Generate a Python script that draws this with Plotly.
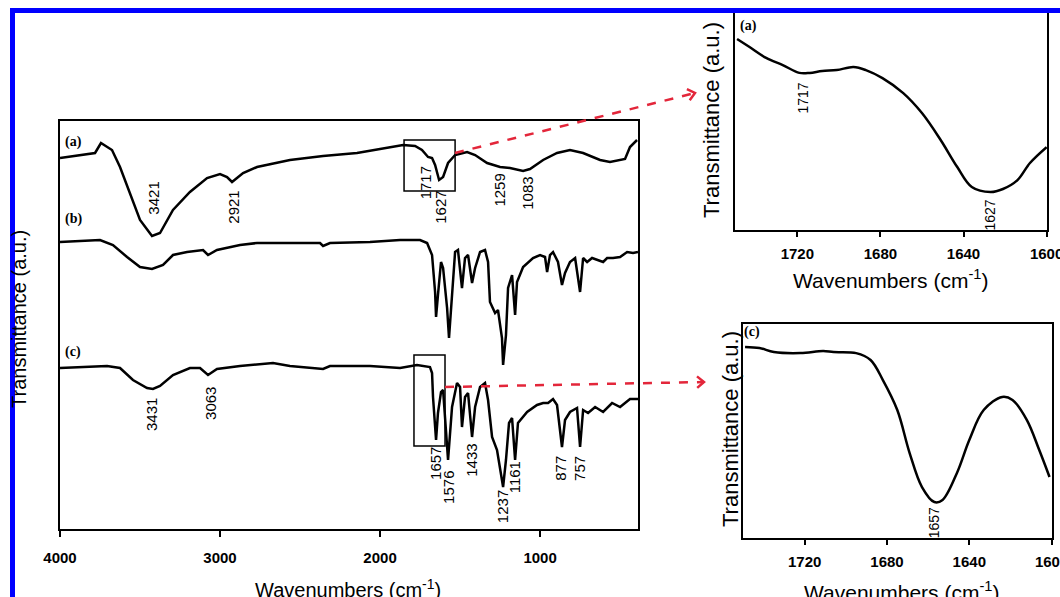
import numpy as np
import plotly.graph_objects as go

W, H = 1060, 597

# ---------------- data (wavenumber cm-1, transmittance a.u.) ----------------
wn_a = [4000, 3781, 3744, 3675, 3625, 3563, 3500, 3425, 3375, 3294, 3188, 3081, 3000, 2956,
        2925, 2894, 2856, 2769, 2563, 2356, 2144, 2000, 1856, 1781, 1738, 1700, 1675, 1656,
        1631, 1606, 1575, 1531, 1456, 1406, 1331, 1250, 1188, 1106, 1063, 981, 894, 813,
        731, 625, 563, 469, 438, 394]
t_a = [92.75, 94.0, 96.5, 94.75, 90.5, 84.0, 77.25, 73.25, 74.0, 79.75, 84.25, 87.75, 88.75, 88.0,
       86.75, 87.75, 89.0, 90.5, 92.25, 93.25, 94.0, 95.0, 96.0, 95.75, 94.75, 93.0, 92.75, 91.0,
       87.25, 88.0, 91.5, 93.5, 94.25, 93.5, 91.5, 90.5, 90.25, 89.5, 90.0, 92.25, 94.0, 94.75,
       94.0, 92.25, 91.75, 92.5, 95.5, 97.25]

wn_b = [4000, 3750, 3669, 3581, 3500, 3425, 3356, 3294, 3206, 3106, 3075, 3019, 2875, 2769,
        2375, 2356, 2313, 2063, 1875, 1750, 1706, 1675, 1656, 1650, 1638, 1619, 1606, 1581,
        1569, 1550, 1531, 1513, 1488, 1469, 1450, 1425, 1406, 1375, 1344, 1325, 1313, 1281,
        1263, 1238, 1231, 1213, 1200, 1175, 1156, 1144, 1106, 1044, 1000, 969, 956, 938,
        919, 888, 863, 844, 813, 781, 750, 731, 706, 675, 644, 606, 581, 544, 500, 456,
        419, 388]
t_b = [71.75, 72.25, 71.0, 68.0, 65.5, 65.0, 66.0, 68.5, 69.25, 69.75, 68.5, 69.75, 71.0, 71.5,
       71.5, 70.75, 71.5, 71.75, 72.25, 72.25, 71.5, 68.5, 59.25, 53.0, 58.5, 66.75, 65.25, 55.25,
       47.75, 59.25, 69.25, 69.75, 60.25, 67.75, 68.5, 61.5, 65.25, 69.25, 69.75, 66.75, 56.75, 54.0,
       54.75, 47.75, 41.0, 48.5, 60.25, 63.5, 53.5, 61.75, 65.5, 67.75, 68.5, 68.0, 64.25, 68.5,
       69.25, 66.75, 61.0, 64.0, 66.75, 67.75, 59.25, 67.75, 66.75, 67.75, 67.25, 66.75, 67.75, 67.75,
       68.0, 69.25, 69.0, 69.25]

wn_c = [4000, 3706, 3625, 3544, 3456, 3419, 3375, 3294, 3188, 3125, 3075, 3019, 2875, 2669,
        2563, 2356, 2313, 2063, 1875, 1769, 1688, 1675, 1669, 1650, 1638, 1619, 1606, 1588,
        1575, 1550, 1519, 1500, 1488, 1469, 1450, 1425, 1406, 1375, 1344, 1325, 1300, 1269,
        1250, 1231, 1213, 1194, 1175, 1156, 1138, 1081, 1019, 981, 950, 919, 894, 863, 844,
        813, 769, 750, 731, 700, 656, 606, 550, 500, 438, 388]
t_c = [40.25, 40.75, 40.25, 37.25, 35.25, 35.0, 35.75, 38.5, 40.25, 40.25, 38.5, 40.0, 40.75, 41.5,
       40.75, 40.0, 40.75, 40.75, 40.25, 41.0, 40.5, 39.0, 33.0, 22.25, 29.0, 34.25, 34.75, 25.5,
       17.25, 30.5, 36.5, 35.5, 25.5, 33.0, 34.0, 23.0, 30.5, 35.5, 36.5, 32.25, 23.0, 19.75,
       15.5, 10.5, 17.25, 26.5, 27.75, 17.25, 26.5, 29.25, 31.0, 31.5, 31.5, 32.5, 31.0, 20.5, 27.25,
       29.25, 30.25, 20.5, 29.75, 29.0, 30.5, 29.25, 31.5, 30.5, 32.5, 32.5]

# inset (a): zoom of spectrum (a) 1750-1600
wn_ia = [1749, 1743, 1735, 1727, 1719, 1714, 1708, 1701, 1693, 1687, 1679, 1669, 1660, 1651,
         1643, 1636, 1627, 1621, 1614, 1608, 1600]
t_ia = [88.0, 84.3, 79.3, 76.0, 72.4, 72.4, 73.3, 73.7, 75.1, 73.7, 70.0, 63.1, 53.9, 41.5,
        29.0, 19.8, 17.5, 18.9, 23.0, 30.9, 38.2]

# inset (c): zoom of spectrum (c) 1750-1600
wn_ic = [1749, 1742, 1735, 1722, 1711, 1706, 1695, 1688, 1682, 1675, 1669, 1663, 1657, 1653,
         1646, 1640, 1633, 1624, 1619, 1612, 1606, 1601]
t_ic = [89.3, 88.8, 86.9, 86.4, 87.4, 86.9, 86.4, 83.2, 73.8, 59.8, 39.7, 23.8, 16.8, 17.8,
        30.4, 45.8, 59.8, 65.9, 64.5, 55.1, 41.1, 28.5]

# peak labels (wavenumber text, label height in a.u.)
peaks_a = [3421, 2921, 1717, 1627, 1259, 1083]
peaks_a_y = [82.75, 80.5, 86.5, 80.5, 84.75, 84.0]
peaks_c = [3431, 3063, 1657, 1576, 1433, 1237, 1161, 877, 757]
peaks_c_y = [28.5, 31.5, 16.5, 10.5, 17.25, 5.5, 13.0, 15.25, 15.25]
peaks_ia = [1717, 1627]
peaks_ia_y = [60.8, 6.9]
peaks_ic = [1657]
peaks_ic_y = [7.0]

# zoom boxes on main plot (wn range, T range)
box_a = [1850, 1531, 84.5, 97.25]
box_c = [1788, 1594, 20.75, 43.5]

main_ticks = [4000, 3000, 2000, 1000]
inset_ticks = [1720, 1680, 1640, 1600]

# ---------------- figure ----------------
def P(x, y):
    return x / W, 1 - y / H

fig = go.Figure()
line = dict(color="black", width=2.5)
for wn, t in [(wn_a, t_a), (wn_b, t_b), (wn_c, t_c)]:
    fig.add_trace(go.Scatter(x=wn, y=t, mode="lines", line=line, xaxis="x", yaxis="y",
                             showlegend=False, hoverinfo="skip"))
fig.add_trace(go.Scatter(x=wn_ia, y=t_ia, mode="lines", line=dict(color="black", width=2.5),
                         line_shape="spline", xaxis="x2", yaxis="y2", showlegend=False))
fig.add_trace(go.Scatter(x=wn_ic, y=t_ic, mode="lines", line=dict(color="black", width=2.5),
                         line_shape="spline", xaxis="x3", yaxis="y3", showlegend=False))

tickfont = dict(family="Liberation Sans, Arial", size=15, color="black", weight="bold")
axcommon = dict(showline=True, linecolor="black", mirror=True, showgrid=False, zeroline=False)

fig.update_layout(
    width=W, height=H, margin=dict(l=0, r=0, t=0, b=0),
    paper_bgcolor="white", plot_bgcolor="white", template="none",
    font=dict(family="Liberation Sans, Arial", color="black"),
    xaxis=dict(domain=[60 / W, 638 / W], range=[4000, 388], tickvals=main_ticks,
               ticks="outside", ticklen=6, tickwidth=1.5, tickcolor="black",
               tickfont=tickfont, ticklabelstandoff=8, linewidth=1.5, anchor="y", **axcommon),
    yaxis=dict(domain=[1 - 529 / H, 1 - 121 / H], range=[0, 102], showticklabels=False,
               ticks="", linewidth=1.5, anchor="x", **axcommon),
    xaxis2=dict(domain=[735 / W, 1047 / W], range=[1750, 1599.8], tickvals=inset_ticks,
                ticks="outside", ticklen=5, tickwidth=1.5, tickcolor="black",
                ticklabeloverflow="allow",
                tickfont=tickfont, ticklabelstandoff=4, linewidth=2, anchor="y2", **axcommon),
    yaxis2=dict(domain=[1 - 230 / H, 1 - 13 / H], range=[0, 100], showticklabels=False,
                ticks="", linewidth=2, anchor="x2", **axcommon),
    xaxis3=dict(domain=[743 / W, 1052 / W], range=[1750, 1599.8], tickvals=inset_ticks,
                ticks="outside", ticklen=5, tickwidth=1.5, tickcolor="black",
                ticklabeloverflow="allow",
                tickfont=tickfont, ticklabelstandoff=4, linewidth=2, anchor="y3", **axcommon),
    yaxis3=dict(domain=[1 - 538 / H, 1 - 324 / H], range=[0, 100], showticklabels=False,
                ticks="", linewidth=2, anchor="x3", **axcommon),
)

ann = []
# peak labels
def peak_labels(vals, ys, xr, yr, size):
    for v, y in zip(vals, ys):
        ann.append(dict(x=v, y=y, xref=xr, yref=yr, text=str(v), showarrow=False,
                        textangle=-90, font=dict(size=size, color="black",
                                                 family="Liberation Sans, Arial")))

peak_labels(peaks_a, peaks_a_y, "x", "y", 15)
peak_labels(peaks_c, peaks_c_y, "x", "y", 15)
peak_labels(peaks_ia, peaks_ia_y, "x2", "y2", 14)
peak_labels(peaks_ic, peaks_ic_y, "x3", "y3", 14)

# curve letters
serif = dict(family="Liberation Serif, Times New Roman", size=14, color="black", weight="bold")
for txt, (x, y) in [("(a)", (73, 142)), ("(b)", (73, 219)), ("(c)", (73, 352)),
                    ("(a)", (748, 26)), ("(c)", (752, 332))]:
    px, py = P(x, y)
    ann.append(dict(x=px, y=py, xref="paper", yref="paper", text=txt, showarrow=False,
                    font=serif, xanchor="center", yanchor="middle"))

# axis titles
for txt, (x, y), ang, sz in [
    ("Wavenumbers (cm<sup>-1</sup>)", (348, 588), 0, 20),
    ("Transmittance (a.u.)", (19, 319), -90, 20),
    ("Wavenumbers (cm<sup>-1</sup>)", (891, 279), 0, 21),
    ("Transmittance (a.u.)", (712, 120), -90, 22),
    ("Wavenumbers (cm<sup>-1</sup>)", (902, 591), 0, 21),
    ("Transmittance (a.u.)", (730, 429), -90, 22),
]:
    px, py = P(x, y)
    ann.append(dict(x=px, y=py, xref="paper", yref="paper", text=txt, showarrow=False,
                    textangle=ang, font=dict(size=sz, color="black",
                                             family="Liberation Sans, Arial"),
                    xanchor="center", yanchor="middle"))
fig.update_layout(annotations=ann)

shapes = []
# zoom boxes
for b in (box_a, box_c):
    shapes.append(dict(type="rect", xref="x", yref="y", x0=b[0], x1=b[1], y0=b[2], y1=b[3],
                       line=dict(color="black", width=1.5)))

# red dashed arrows
red = "#e3263a"
for (sx, sy), (tx, ty) in [((455, 153), (695, 93)), ((445, 387), (704, 382))]:
    x0, y0 = P(sx, sy)
    x1, y1 = P(tx, ty)
    shapes.append(dict(type="line", xref="paper", yref="paper", x0=x0, y0=y0, x1=x1, y1=y1,
                       line=dict(color=red, width=2.5, dash="dash")))
    d = np.array([tx - sx, ty - sy], float)
    d /= np.linalg.norm(d)
    pts = []
    for ang in (np.radians(40), -np.radians(40)):
        rot = np.array([[np.cos(ang), -np.sin(ang)], [np.sin(ang), np.cos(ang)]])
        v = rot @ (-d) * 9
        pts.append((tx + v[0], ty + v[1]))
    path = "M{},{} L{},{} L{},{}".format(*P(*pts[0]), *P(tx, ty), *P(*pts[1]))
    shapes.append(dict(type="path", xref="paper", yref="paper", path=path,
                       line=dict(color=red, width=2.5)))

# blue frame
blue = "#0000ff"
x0, y0 = P(10, 8)
x1, y1 = P(1060, 13)
shapes.append(dict(type="rect", xref="paper", yref="paper", x0=x0, x1=x1, y0=y1, y1=y0,
                   fillcolor=blue, line=dict(width=0)))
x0, y0 = P(10, 8)
x1, y1 = P(15, 597)
shapes.append(dict(type="rect", xref="paper", yref="paper", x0=x0, x1=x1, y0=y1, y1=y0,
                   fillcolor=blue, line=dict(width=0)))
fig.update_layout(shapes=shapes)

fig.write_html("out.html")
